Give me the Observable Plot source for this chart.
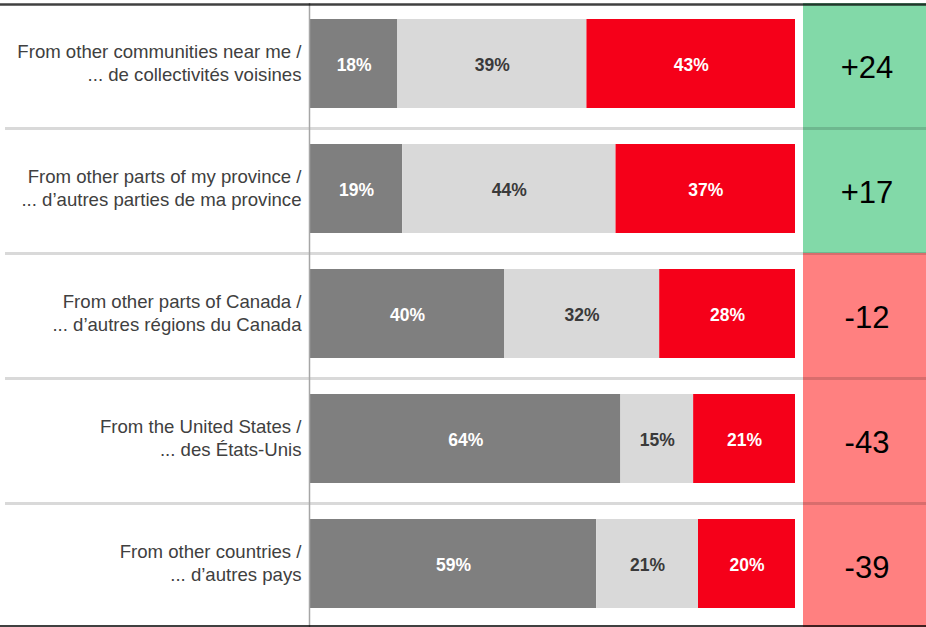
<!DOCTYPE html>
<html>
<head>
<meta charset="utf-8">
<script src="https://cdn.jsdelivr.net/npm/d3@7"></script>
<script src="https://cdn.jsdelivr.net/npm/@observablehq/plot@0.6"></script>
<style>
  html, body { margin: 0; padding: 0; background: #fff; }
  #chart svg { display: block; }
</style>
</head>
<body>
<div id="chart"></div>
<script>
// ---- data ----
const labelsEn = [
  "From other communities near me /",
  "From other parts of my province /",
  "From other parts of Canada /",
  "From the United States /",
  "From other countries /"
];
const labelsFr = [
  "... de collectivités voisines",
  "... d’autres parties de ma province",
  "... d’autres régions du Canada",
  "... des États-Unis",
  "... d’autres pays"
];
const segDark = [18, 19, 40, 64, 59];
const segLight = [39, 44, 32, 15, 21];
const segRed = [43, 37, 28, 21, 20];
const netScore = [24, 17, -12, -43, -39];

// ---- build tables ----
const categories = labelsEn.map((e, i) => e + "\n" + labelsFr[i]);
const segNames = ["dark", "light", "red"];
const segValues = {dark: segDark, light: segLight, red: segRed};
const rows = categories.flatMap((cat, i) =>
  segNames.map(seg => ({cat, seg, value: segValues[seg][i]}))
);
const netRows = categories.map((cat, i) => ({cat, net: netScore[i]}));

// ---- styles ----
const W = 926, H = 627;
const mL = 310, mR = 131, mT = 3, mB = -1;
const segColors = {dark: "#7f7f7f", light: "#d9d9d9", red: "#f50019"};
const textColors = {dark: "#ffffff", light: "#3a3a3a", red: "#ffffff"};
const pxPer = (W - mL - mR) / 100;
const colX1 = 100 + 8 / pxPer;
const colX2 = 100 + mR / pxPer;
const step = (H - mT - mB) / categories.length;
const font = "'Liberation Sans', Arial, Helvetica, sans-serif";

const chart = Plot.plot({
  width: W,
  height: H,
  marginLeft: mL,
  marginRight: mR,
  marginTop: mT,
  marginBottom: mB,
  style: {fontFamily: font, background: "#fff", overflow: "visible"},
  x: {domain: [0, 100], axis: null},
  y: {domain: categories, padding: 0, axis: null},
  color: {type: "identity"},
  marks: [
    // net score column
    Plot.barX(netRows, {
      x1: colX1, x2: colX2, y: "cat",
      fill: d => d.net > 0 ? "#82d9a8" : "#ff8080"
    }),
    // stacked bars
    Plot.barX(rows, Plot.stackX({
      x: "value", y: "cat", z: "seg", order: null,
      fill: d => segColors[d.seg],
      insetTop: 16, insetBottom: 20
    })),
    // bar labels
    Plot.text(rows, Plot.stackX({
      x: "value", y: "cat", z: "seg", order: null,
      text: d => d.value + "%",
      fill: d => textColors[d.seg],
      fontSize: 17.5, fontWeight: "bold", dy: -1
    })),
    // category labels
    Plot.text(categories, {
      x: 0, y: d => d, text: d => d,
      textAnchor: "end", dx: -9, dy: -4,
      fontSize: 18.6, lineHeight: 1.22, fill: "#404040"
    }),
    // net score text
    Plot.text(netRows, {
      x: (colX1 + colX2) / 2, y: "cat",
      text: d => (d.net > 0 ? "+" : "") + d.net,
      fontSize: 31, fill: "#000", dx: 2, dy: 2
    }),
    // row separators
    Plot.ruleY(categories.slice(1), {
      y: d => d, dy: -step / 2, x1: -305 / pxPer, x2: colX2,
      stroke: "#000", strokeOpacity: 0.15, strokeWidth: 3
    }),
    // vertical axis line
    Plot.ruleX([0], {dx: -1, stroke: "#a6a6a6", strokeWidth: 1.5}),
    // top and bottom lines
    Plot.ruleY([categories[0]], {
      y: d => d, dy: -step / 2 + 1, x1: -mL / pxPer, x2: colX2,
      stroke: "#000", strokeOpacity: 0.75, strokeWidth: 2.5
    }),
    Plot.ruleY([categories[categories.length - 1]], {
      y: d => d, dy: step / 2 - 2.5, x1: -mL / pxPer, x2: colX2,
      stroke: "#000", strokeOpacity: 0.75, strokeWidth: 2
    })
  ]
});
document.getElementById("chart").appendChild(chart);
</script>
</body>
</html>
